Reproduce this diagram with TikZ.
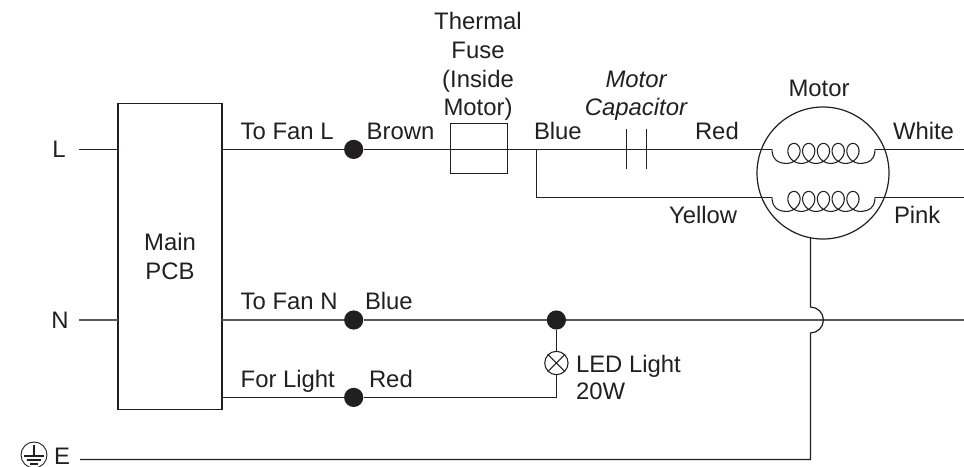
\documentclass[tikz,border=0pt]{standalone}
\usepackage{fontspec}
\setmainfont{Liberation Sans}
\definecolor{ink}{HTML}{231F20}
\definecolor{busline}{HTML}{58595B}
\tikzset{
  wire/.style={draw=ink,line width=0.9pt},
  bus/.style={draw=busline,line width=1.5pt},
  thin part/.style={draw=ink,line width=0.8pt},
  label/.style={text=ink,font=\fontsize{17.9}{19}\selectfont,inner sep=0pt,outer sep=0pt,anchor=base west},
  mid label/.style={label,anchor=base},
  junction/.style={circle,fill=ink,draw=none,minimum size=14.4pt,inner sep=0pt}
}
\begin{document}
\begin{tikzpicture}[x=0.75pt,y=-0.75pt]
\useasboundingbox (0,0) rectangle (964,467);
% terminals
\coordinate (Lin) at (79,149.4);
\coordinate (Nin) at (79,320);
\coordinate (Ein) at (80,459.4);
\coordinate (Lpcb) at (118,149.4);
\coordinate (Npcb) at (118,320);
\coordinate (Lout) at (222,149.4);
\coordinate (Nout) at (222,320);
\coordinate (Rout) at (222,397.4);
\node[draw=ink,line width=0.8pt,minimum width=78pt,minimum height=229pt,inner sep=0pt] (pcb) at (170,256.5) {};
% junctions
\node[junction] (j1) at (353.7,149.4) {};
\node[junction] (j2) at (353.7,320) {};
\node[junction] (j3) at (353.7,397.4) {};
\node[junction] (j4) at (556.4,320) {};
% fuse, motor, lamp
\node[draw=ink,line width=0.6pt,minimum width=42.75pt,minimum height=37.5pt,inner sep=0pt] (fuse) at (478.5,148) {};
\node[circle,draw=ink,line width=0.9pt,minimum size=99pt,inner sep=0pt] (motor) at (823,173) {};
\node[circle,draw=ink,line width=0.8pt,minimum size=17.5pt,inner sep=0pt] (lamp) at (556.4,363) {};
\draw[thin part] (lamp.north west) -- (lamp.south east) (lamp.north east) -- (lamp.south west);
% wires
\coordinate (tapB) at (536.4,149.4);
\coordinate (tapY) at (536.4,197.4);
\coordinate (c1) at (772,149.4);
\coordinate (c2) at (875,149.4);
\coordinate (c3) at (772,197.4);
\coordinate (c4) at (875,197.4);
\coordinate (wEnd) at (964,149.4);
\coordinate (pEnd) at (964,197.4);
\coordinate (nEnd) at (964,320);
\coordinate (lampBot) at (556.4,397.4);
\coordinate (eCorner) at (810.4,459.4);
\coordinate (eUp) at (810.4,333);
\coordinate (earthTop) at (810.4,238);
\draw[wire] (Lin) -- (Lpcb);
\draw[bus] (Nin) -- (Npcb);
\draw[wire] (Lout) -- (j1) -- (tapB) -- (c1);
\draw[wire] (tapB) -- (tapY) -- (c3);
\draw[wire] (c2) -- (wEnd);
\draw[wire] (c4) -- (pEnd);
\draw[bus] (Nout) -- (j2) -- (j4) -- (nEnd);
\draw[wire] (Rout) -- (j3) -- (lampBot) -- (lamp.south);
\draw[wire] (lamp.north) -- (j4);
\draw[wire] (Ein) -- (eCorner) -- (eUp) arc[start angle=90,end angle=-90,radius=13] -- (earthTop);
% capacitor
\coordinate (p1a) at (626.4,129);\coordinate (p1b) at (626.4,169);
\coordinate (p2a) at (646.4,129);\coordinate (p2b) at (646.4,169);
\draw[thin part] (p1a) -- (p1b);
\draw[thin part] (p2a) -- (p2b);
% coils
\foreach \yy in {149.4,197.4}{
  \draw[thin part] (772,\yy) .. controls (772,\yy+10) and (778,\yy+14) .. (786.6,\yy+14)
     -- plot[domain=0:1800,samples=181,smooth] ({786.6+\x/360*14.74+9.5*sin(\x)},{\yy+4+10*cos(\x)})
     .. controls (869,\yy+14) and (875,\yy+10) .. (875,\yy);
}
% earth symbol
\node[circle,draw=ink,line width=0.7pt,minimum size=19.5pt,inner sep=0pt] (earth) at (34,455) {};
\draw[thin part] (34,445) -- (34,456) (24,456) -- (44,456) (27,460) -- (41,460) (30,464) -- (38,464);
% labels
\node[mid label] (tL) at (59,157) {L};
\node[mid label] (tN) at (60,328) {N};
\node[label] (tE) at (54,464.5) {E};
\node[mid label] (tMain) at (170,250.5) {Main};
\node[mid label] (tPCB) at (170,279) {PCB};
\node[label] (t1) at (240.7,139) {To Fan L};
\node[label] (t2) at (366.7,139) {Brown};
\node[label] (t3) at (534,139) {Blue};
\node[label] (t4) at (695,139) {Red};
\node[label] (t5) at (893,139) {White};
\node[label] (t6) at (669,223) {Yellow};
\node[label] (t7) at (894,223) {Pink};
\node[label] (t8) at (240.7,309) {To Fan N};
\node[label] (t9) at (365,309) {Blue};
\node[label] (t10) at (240.7,387) {For Light};
\node[label] (t11) at (369,387) {Red};
\node[label] (t12) at (576,372) {LED Light};
\node[label] (t13) at (576,399) {20W};
\node[mid label] (t14) at (819,97) {Motor};
\node[mid label] (m1) at (636,88) {\itshape Motor};
\node[mid label] (m2) at (636,116) {\itshape Capacitor};
\node[mid label] (f1) at (478,30) {Thermal};
\node[mid label] (f2) at (478,59) {Fuse};
\node[mid label] (f3) at (478,88) {(Inside};
\node[mid label] (f4) at (478,116) {Motor)};
\end{tikzpicture}
\end{document}
